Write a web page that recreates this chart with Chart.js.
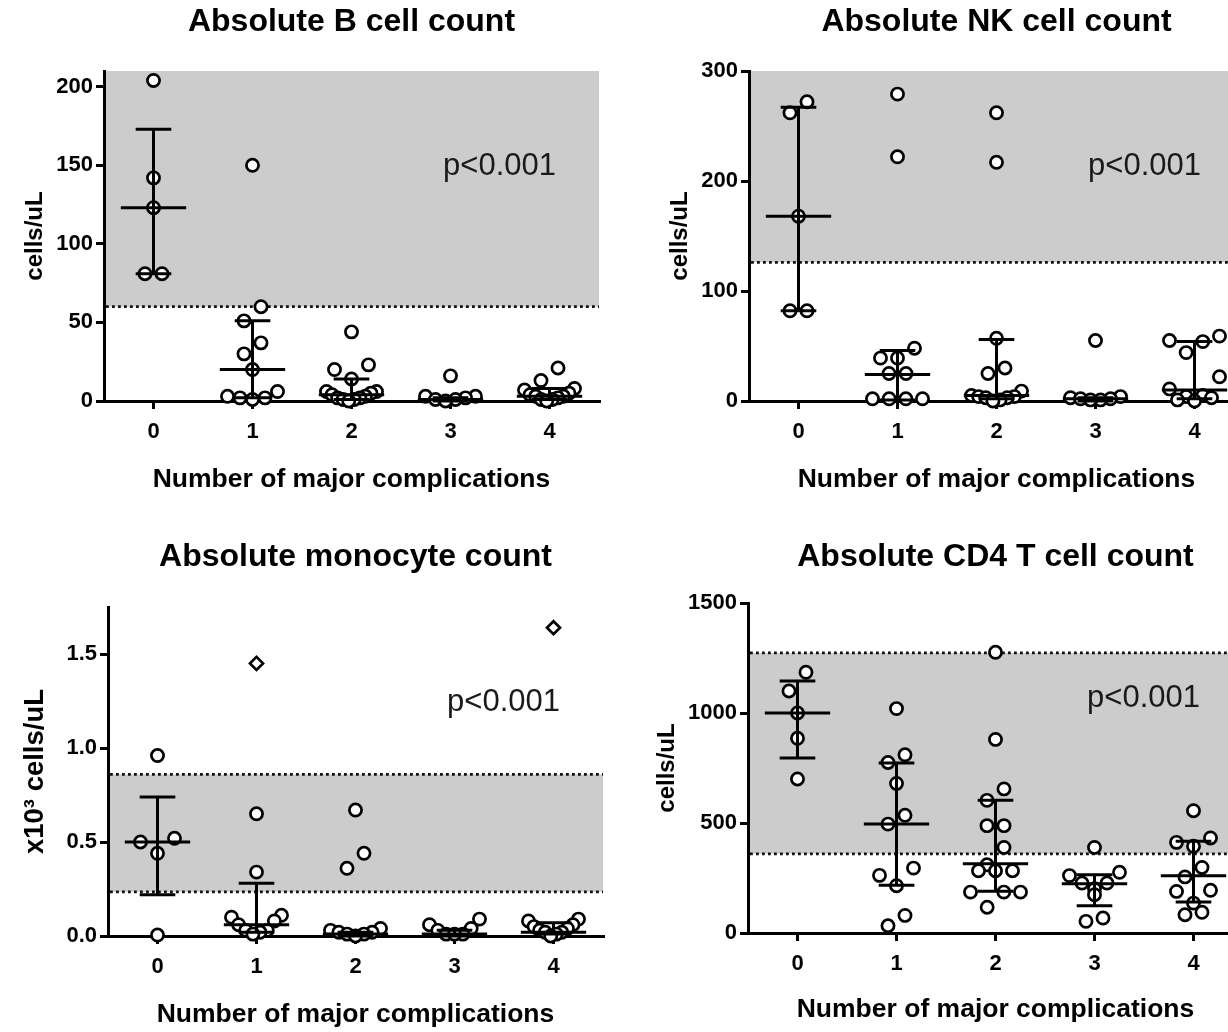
<!DOCTYPE html>
<html><head><meta charset="utf-8">
<script src="https://cdn.jsdelivr.net/npm/chart.js@4.4.0/dist/chart.umd.min.js"></script>
<style>
html,body{margin:0;padding:0;background:#fff;overflow:hidden;width:1228px;height:1032px;position:relative;}
canvas{position:absolute;}
</style></head><body>
<canvas id="cB" width="614" height="505" style="left:0px;top:0px"></canvas>
<canvas id="cNK" width="650" height="505" style="left:614px;top:0px"></canvas>
<canvas id="cMono" width="614" height="502" style="left:0px;top:530px"></canvas>
<canvas id="cCD4" width="650" height="502" style="left:614px;top:530px"></canvas>
<script>
// ---------------- DATA ----------------
const categories = [0, 1, 2, 3, 4];
const xTickLabels = ['0', '1', '2', '3', '4'];
const xAxisTitle = 'Number of major complications';
const pValueText = 'p<0.001';

// Absolute B cell count (cells/uL)
const bcellTitle = 'Absolute B cell count';
const bcellYTitle = 'cells/uL';
const bcellValues = [
  [204, 142, 123, 81, 81],
  [150, 60, 51, 37, 30, 20, 6, 3, 2, 2, 1],
  [44, 23, 20, 14, 6, 6, 5, 4, 3, 2, 2, 1, 1, 0],
  [16, 3, 3, 2, 1, 1, 0],
  [21, 13, 8, 7, 5, 4, 3, 3, 2, 1, 1, 0]
];
const bcellMedian = [123, 20, 4, 1, 3];
const bcellQ1 = [81, 2, 1, 0, 1];
const bcellQ3 = [173, 51, 14, 2, 8];
const bcellBand = [60, 210];
const bcellDotted = [60];
const bcellYRange = [0, 210];
const bcellYTicks = [0, 50, 100, 150, 200];
const bcellYTickLabels = ['0', '50', '100', '150', '200'];

// Absolute NK cell count (cells/uL)
const nkTitle = 'Absolute NK cell count';
const nkYTitle = 'cells/uL';
const nkValues = [
  [272, 262, 168, 82, 82],
  [279, 222, 48, 39, 39, 25, 25, 2, 2, 2, 2],
  [262, 217, 57, 30, 25, 9, 5, 4, 4, 3, 3, 1, 0],
  [55, 4, 3, 2, 2, 1, 1],
  [59, 55, 54, 44, 22, 11, 5, 4, 3, 1, 0]
];
const nkMedian = [168, 24, 5, 2, 10];
const nkQ1 = [82, 1, 2, 0, 2];
const nkQ3 = [267, 46, 56, 3, 54];
const nkBand = [126, 300];
const nkDotted = [126];
const nkYRange = [0, 300];
const nkYTicks = [0, 100, 200, 300];
const nkYTickLabels = ['0', '100', '200', '300'];

// Absolute monocyte count (x10^3 cells/uL)
const monoTitle = 'Absolute monocyte count';
const monoYTitle = 'x10\u00B3 cells/uL';
const monoValues = [
  [0.96, 0.52, 0.50, 0.44, 0.005],
  [0.65, 0.34, 0.11, 0.10, 0.08, 0.06, 0.03, 0.03, 0.02, 0.01],
  [0.67, 0.44, 0.36, 0.04, 0.03, 0.02, 0.02, 0.01, 0.01, 0.0],
  [0.09, 0.06, 0.04, 0.03, 0.01, 0.01, 0.01],
  [0.09, 0.08, 0.06, 0.05, 0.04, 0.03, 0.02, 0.02, 0.01, 0.0]
];
const monoOutlierCats = [1, 4];
const monoOutlierValues = [1.45, 1.64];
const monoMedian = [0.50, 0.06, 0.01, 0.01, 0.02];
const monoQ1 = [0.22, 0.02, 0.0, 0.0, 0.01];
const monoQ3 = [0.74, 0.28, 0.02, 0.03, 0.07];
const monoBand = [0.235, 0.86];
const monoDotted = [0.235, 0.86];
const monoYRange = [0, 1.75];
const monoYTicks = [0, 0.5, 1.0, 1.5];
const monoYTickLabels = ['0.0', '0.5', '1.0', '1.5'];

// Absolute CD4 T cell count (cells/uL)
const cd4Title = 'Absolute CD4 T cell count';
const cd4YTitle = 'cells/uL';
const cd4Values = [
  [1185, 1100, 1000, 885, 700],
  [1020, 810, 775, 680, 535, 495, 295, 262, 215, 80, 33],
  [1276, 880, 655, 603, 488, 488, 389, 310, 283, 283, 283, 186, 186, 186, 117],
  [389, 276, 261, 227, 227, 201, 174, 68, 53],
  [556, 432, 412, 394, 298, 255, 194, 189, 136, 94, 83]
];
const cd4Median = [1000, 495, 315, 224, 260];
const cd4Q1 = [795, 217, 190, 124, 141];
const cd4Q3 = [1145, 773, 603, 265, 417];
const cd4Band = [360, 1273];
const cd4Dotted = [360, 1273];
const cd4YRange = [0, 1500];
const cd4YTicks = [0, 500, 1000, 1500];
const cd4YTickLabels = ['0', '500', '1000', '1500'];

// ---------------- STYLE / LAYOUT ----------------
const FONT = "'Liberation Sans', Arial, Helvetica, sans-serif";
Chart.defaults.font.family = FONT;
Chart.defaults.color = '#000';

const annotPlugin = {
  id: 'annot',
  beforeDraw(chart, args, o) {
    const {ctx, chartArea: a, scales: {y}} = chart;
    ctx.save();
    const yTop = y.getPixelForValue(o.band[1]);
    const yBot = y.getPixelForValue(o.band[0]);
    ctx.fillStyle = '#cccccc';
    ctx.fillRect(a.left, yTop, a.right - a.left, yBot - yTop);
    ctx.restore();
  },
  beforeDatasetsDraw(chart, args, o) {
    const {ctx, chartArea: a, scales: {y}} = chart;
    ctx.save();
    ctx.strokeStyle = '#111';
    ctx.lineWidth = 2.8;
    ctx.setLineDash([2.8, 3.2]);
    o.dotted.forEach(v => {
      const py = y.getPixelForValue(v);
      ctx.beginPath();
      ctx.moveTo(a.left + 2, py);
      ctx.lineTo(a.right, py);
      ctx.stroke();
    });
    ctx.restore();
  },
  afterDatasetsDraw(chart, args, o) {
    const {ctx, scales: {x, y}} = chart;
    const unit = x.getPixelForValue(1) - x.getPixelForValue(0);
    ctx.save();
    ctx.strokeStyle = '#000';
    ctx.lineWidth = 3;
    ctx.lineCap = 'butt';
    categories.forEach((c, i) => {
      const px = x.getPixelForValue(c);
      const yl = y.getPixelForValue(o.q1[i]);
      const yh = y.getPixelForValue(o.q3[i]);
      const ym = y.getPixelForValue(o.median[i]);
      const cap = 0.18 * unit, med = 0.33 * unit;
      ctx.beginPath();
      ctx.moveTo(px, yl); ctx.lineTo(px, yh);
      ctx.moveTo(px - cap, yl); ctx.lineTo(px + cap, yl);
      ctx.moveTo(px - cap, yh); ctx.lineTo(px + cap, yh);
      ctx.moveTo(px - med, ym); ctx.lineTo(px + med, ym);
      ctx.stroke();
    });
    ctx.restore();
  },
  afterDraw(chart, args, o) {
    const {ctx, chartArea: a} = chart;
    ctx.save();
    ctx.fillStyle = '#1a1a1a';
    ctx.font = '31px ' + FONT;
    ctx.textAlign = 'right';
    ctx.textBaseline = 'middle';
    ctx.fillText(o.pText, a.left + 452, a.top + 95);
    ctx.restore();
  }
};

// Row-based scatter spreading (like a column scatter plot): points whose pixel
// heights fall within one row height share a row and are spread evenly,
// higher values toward the outer slots, lower values toward the centre.
function spreadRows(values, cat, xs, ys, rowH, step, maxW) {
  const unit = xs.getPixelForValue(1) - xs.getPixelForValue(0);
  const idx = values.map((_, i) => i).sort((a, b) => values[b] - values[a]);
  const out = new Array(values.length);
  let row = [], startY = null;
  const flush = () => {
    const n = row.length;
    if (!n) return;
    const s = n > 1 ? Math.min(step, maxW / (n - 1)) : 0;
    const slots = [];
    let lo = 0, hi = n - 1;
    while (lo <= hi) { slots.push(hi--); if (lo <= hi) slots.push(lo++); }
    row.forEach((i, k) => { out[i] = cat + ((slots[k] - (n - 1) / 2) * s) / unit; });
    row = [];
  };
  idx.forEach(i => {
    const py = ys.getPixelForValue(values[i]);
    if (row.length && py - startY >= rowH) flush();
    if (!row.length) startY = py;
    row.push(i);
  });
  flush();
  return out;
}

function makePanel(id, L, d) {
  const circles = [];
  d.values.forEach((arr, ci) => arr.forEach(v => circles.push({x: categories[ci], y: v})));
  const datasets = [{
    data: circles, pointStyle: 'circle', pointRadius: 6.1, pointBorderWidth: 2.7,
    pointBackgroundColor: '#fff', pointBorderColor: '#000', showLine: false, clip: false
  }];
  if (d.outCats) {
    datasets.push({
      data: d.outCats.map((c, i) => ({x: c, y: d.outVals[i]})),
      pointStyle: 'rectRot', pointRadius: 6.5, pointBorderWidth: 2.7,
      pointBackgroundColor: '#fff', pointBorderColor: '#000', showLine: false, clip: false
    });
  }
  const grid = {display: true, drawOnChartArea: false, drawTicks: true, tickLength: 8,
    tickWidth: 3, tickColor: '#000', color: '#000', lineWidth: 3};
  const border = {display: true, color: '#000', width: 3};
  const chart = new Chart(document.getElementById(id), {
    type: 'scatter',
    data: {datasets},
    options: {
      responsive: false, animation: false, devicePixelRatio: 1,
      events: [],
      layout: {padding: {left: 0, top: 0, bottom: 0, right: L.padRight}},
      plugins: {
        legend: {display: false}, tooltip: {enabled: false},
        title: {display: true, text: d.title, color: '#000', fullSize: false,
          font: {size: 32, weight: 'bold'}, padding: {top: L.titlePadTop, bottom: L.titlePadBottom}},
        annot: {band: d.band, dotted: d.dotted, median: d.median, q1: d.q1, q3: d.q3, pText: pValueText}
      },
      scales: {
        x: {
          type: 'linear', min: -0.5, max: 4.5,
          afterFit: s => { s.height = L.xHeight; },
          afterBuildTicks: s => { s.ticks = categories.map(v => ({value: v})); },
          ticks: {callback: (v, i) => xTickLabels[i], font: {size: 22, weight: 'bold'}, color: '#000',
            padding: 9.5, autoSkip: false, maxRotation: 0},
          grid, border,
          title: {display: true, text: xAxisTitle, color: '#000', font: {size: 26.5, weight: 'bold'},
            padding: {top: 0, bottom: L.xTitlePad}}
        },
        y: {
          type: 'linear', min: d.yRange[0], max: d.yRange[1],
          afterFit: s => { s.width = L.yWidth; },
          afterBuildTicks: s => { s.ticks = d.yTicks.map(v => ({value: v})); },
          ticks: {callback: (v, i) => d.yTickLabels[i], font: {size: 22, weight: 'bold'}, color: '#000', padding: 3},
          grid, border,
          title: {display: true, text: d.yTitle, color: '#000', font: {size: L.yTitleSize, weight: 'bold'},
            padding: {top: L.yTitlePad, bottom: 0}}
        }
      }
    },
    plugins: [annotPlugin]
  });
  const xs = chart.scales.x, ys = chart.scales.y;
  let k = 0;
  d.values.forEach((arr, ci) => {
    const xr = spreadRows(arr, categories[ci], xs, ys, 20, 17, 50);
    xr.forEach(xv => { chart.data.datasets[0].data[k++].x = xv; });
  });
  chart.update('none');
  return chart;
}

makePanel('cB', {padRight: 15, yWidth: 104, xHeight: 104, titlePadTop: 3, titlePadBottom: 29.6, xTitlePad: 9, yTitlePad: 20.6, yTitleSize: 24},
  {title: bcellTitle, yTitle: bcellYTitle, values: bcellValues, median: bcellMedian, q1: bcellQ1, q3: bcellQ3,
   band: bcellBand, dotted: bcellDotted, yRange: bcellYRange, yTicks: bcellYTicks, yTickLabels: bcellYTickLabels});
makePanel('cNK', {padRight: 20, yWidth: 135, xHeight: 104, titlePadTop: 3, titlePadBottom: 29.6, xTitlePad: 9, yTitlePad: 51.6, yTitleSize: 24},
  {title: nkTitle, yTitle: nkYTitle, values: nkValues, median: nkMedian, q1: nkQ1, q3: nkQ3,
   band: nkBand, dotted: nkDotted, yRange: nkYRange, yTicks: nkYTicks, yTickLabels: nkYTickLabels});
makePanel('cMono', {padRight: 11, yWidth: 108, xHeight: 96, titlePadTop: 8, titlePadBottom: 30.6, xTitlePad: 1, yTitlePad: 18.5, yTitleSize: 27.5},
  {title: monoTitle, yTitle: monoYTitle, values: monoValues, outCats: monoOutlierCats, outVals: monoOutlierValues,
   median: monoMedian, q1: monoQ1, q3: monoQ3,
   band: monoBand, dotted: monoDotted, yRange: monoYRange, yTicks: monoYTicks, yTickLabels: monoYTickLabels});
makePanel('cCD4', {padRight: 21, yWidth: 134, xHeight: 99, titlePadTop: 8, titlePadBottom: 26.6, xTitlePad: 6, yTitlePad: 38.6, yTitleSize: 24},
  {title: cd4Title, yTitle: cd4YTitle, values: cd4Values, median: cd4Median, q1: cd4Q1, q3: cd4Q3,
   band: cd4Band, dotted: cd4Dotted, yRange: cd4YRange, yTicks: cd4YTicks, yTickLabels: cd4YTickLabels});
</script>
</body></html>
